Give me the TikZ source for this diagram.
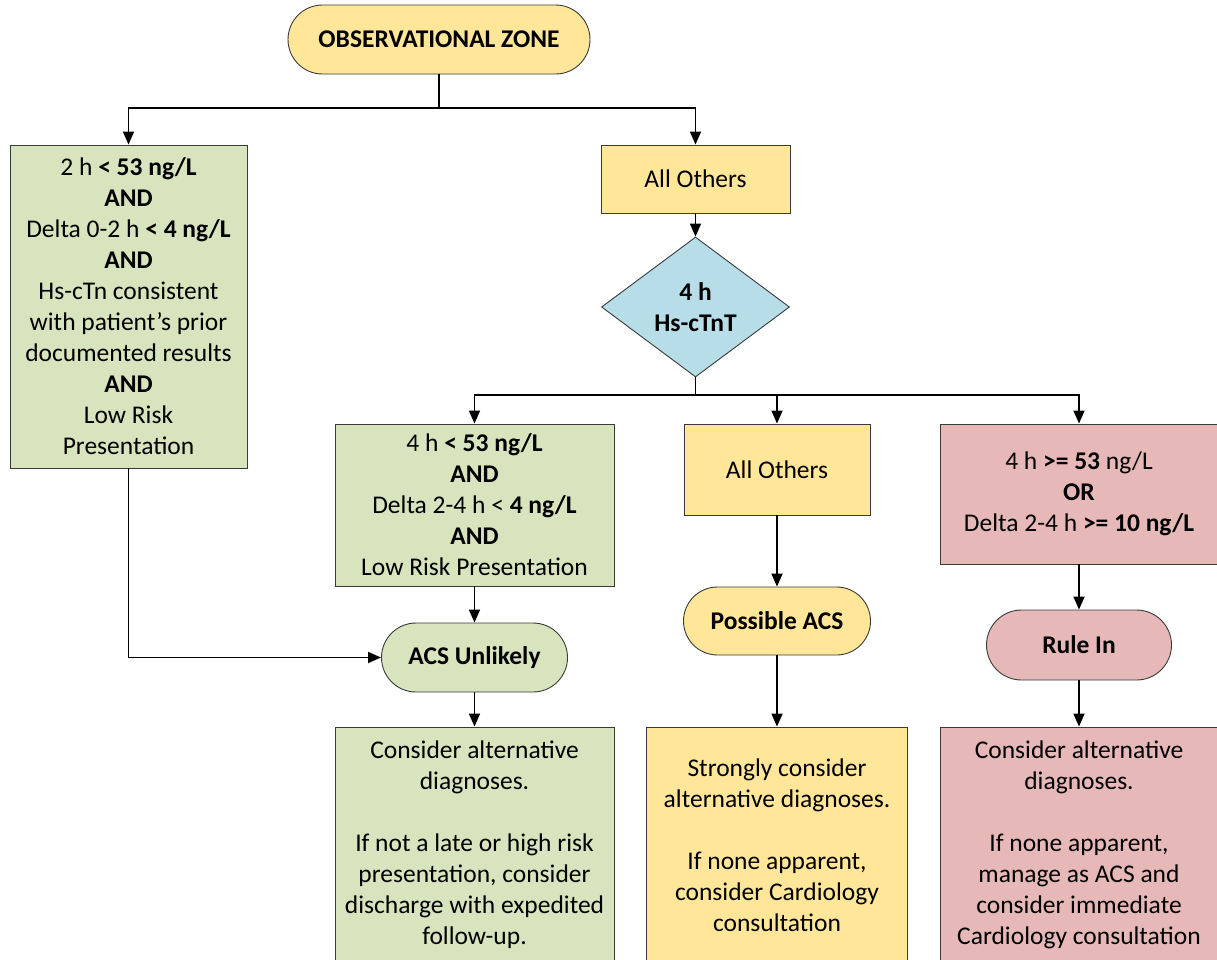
\documentclass[tikz,border=0pt]{standalone}
\usepackage{fontspec}
\setmainfont{Carlito}
\usetikzlibrary{shapes.misc,shapes.geometric,arrows.meta}
\definecolor{cyel}{HTML}{FFE699}
\definecolor{cgrn}{HTML}{D7E4BD}
\definecolor{cblu}{HTML}{B7DEE8}
\definecolor{cred}{HTML}{E6B9B8}
\definecolor{cbord}{HTML}{3A3A3A}
\begin{document}
\begin{tikzpicture}[x=1pt,y=-1pt,
  box/.style={draw=cbord, line width=0.9pt, inner sep=0pt, align=center, font=\fontsize{25.5}{31}\selectfont},
  term/.style={box, rounded rectangle, font=\fontsize{25.5}{31}\selectfont\bfseries},
  dia/.style={box, diamond, font=\fontsize{25.5}{31}\selectfont\bfseries},
  conn/.style={line width=1.7pt, -{Triangle[length=13pt,width=11pt]}},
  plain/.style={line width=1.7pt}]
\useasboundingbox (0,0) rectangle (1217,959);
\clip (0,0) rectangle (1217,959);

\node[term, fill=cyel, minimum width=302, minimum height=69] (obs) at (439,39.5) {OBSERVATIONAL ZONE};
\node[box, fill=cgrn, minimum width=237, minimum height=323] (left) at (128.5,306.5)
  {2 h \textbf{< 53 ng/L}\\\textbf{AND}\\Delta 0-2 h \textbf{< 4 ng/L}\\\textbf{AND}\\Hs-cTn consistent\\with patient’s prior\\documented results\\\textbf{AND}\\Low Risk\\Presentation};
\node[box, fill=cyel, minimum width=189, minimum height=68] (ao1) at (695.5,179) {All Others};
\node[dia, fill=cblu, minimum width=188, minimum height=140] (dec) at (695.5,307) {4 h\\Hs-cTnT};

\node[box, fill=cgrn, minimum width=279, minimum height=162] (g2) at (474.5,505)
  {4 h \textbf{< 53 ng/L}\\\textbf{AND}\\Delta 2-4 h < \textbf{4 ng/L}\\\textbf{AND}\\Low Risk Presentation};
\node[box, fill=cyel, minimum width=186, minimum height=91] (ao2) at (777,469.5) {All Others};
\node[box, fill=cred, minimum width=278, minimum height=140] (red) at (1079,494)
  {4 h \textbf{>= 53} ng/L\\\textbf{OR}\\Delta 2-4 h \textbf{>= 10 ng/L}};

\node[term, fill=cgrn, minimum width=186, minimum height=69] (acs) at (474.5,657.5) {ACS Unlikely};
\node[term, fill=cyel, minimum width=187, minimum height=68] (pos) at (777,621) {Possible ACS};
\node[term, fill=cred, minimum width=185, minimum height=70] (rule) at (1079,645) {Rule In};

\node[box, fill=cgrn, minimum width=279, minimum height=236] (bg) at (474.5,845)
  {Consider alternative\\diagnoses.\\[31pt]If not a late or high risk\\presentation, consider\\discharge with expedited\\follow-up.};
\node[box, fill=cyel, minimum width=261, minimum height=236] (by) at (777,845)
  {Strongly consider\\alternative diagnoses.\\[31pt]If none apparent,\\consider Cardiology\\consultation};
\node[box, fill=cred, minimum width=278, minimum height=236] (br) at (1079,845)
  {Consider alternative\\diagnoses.\\[31pt]If none apparent,\\manage as ACS and\\consider immediate\\Cardiology consultation};

\coordinate (j1) at (439,108);
\coordinate (j2) at (695.5,395);
\draw[plain] (obs.south) -- (j1);
\draw[conn] (j1) -| (left.north);
\draw[conn] (j1) -| (ao1.north);
\draw[conn] (ao1.south) -- (dec.north);
\draw[plain] (dec.south) -- (j2);
\draw[conn] (j2) -| (g2.north);
\draw[conn] (j2) -| (ao2.north);
\draw[conn] (j2) -| (red.north);
\draw[conn] (g2.south) -- (acs.north);
\draw[conn] (left.south) |- (acs.west);
\draw[conn] (acs.south) -- (bg.north);
\draw[conn] (ao2.south) -- (pos.north);
\draw[conn] (pos.south) -- (by.north);
\draw[conn] (red.south) -- (rule.north);
\draw[conn] (rule.south) -- (br.north);
\end{tikzpicture}
\end{document}
